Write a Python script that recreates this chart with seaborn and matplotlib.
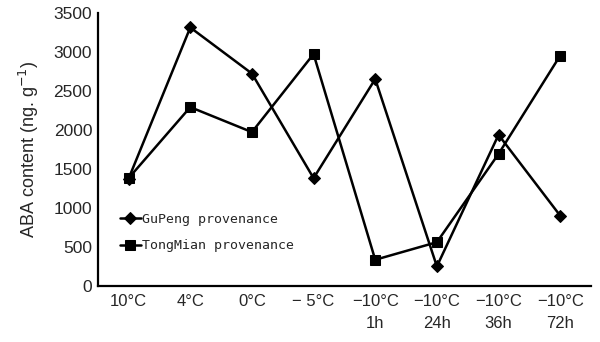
import matplotlib
matplotlib.use("Agg")
import matplotlib.pyplot as plt
import seaborn as sns
import pandas as pd
import numpy as np

categories = ["10°C", "4°C", "0°C", "− 5°C", "−10°C\n1h", "−10°C\n24h", "−10°C\n36h", "−10°C\n72h"]
gupeng = [1375, 3310, 2720, 1380, 2650, 250, 1935, 900]
tongmian = [1380, 2290, 1970, 2970, 335, 560, 1690, 2950]
series_names = ["GuPeng provenance", "TongMian provenance"]
yticks = [0, 500, 1000, 1500, 2000, 2500, 3000, 3500]

sns.set_theme(style="white")
plt.rcParams['font.family'] = ['Liberation Sans', 'DejaVu Sans']

rows = []
for i, c in enumerate(categories):
    rows.append({"pos": i, "value": gupeng[i], "series": series_names[0]})
    rows.append({"pos": i, "value": tongmian[i], "series": series_names[1]})
df = pd.DataFrame(rows)

fig = plt.figure(figsize=(6.0, 3.42), dpi=100)
ax = fig.add_axes([0.163, 0.164, 0.822, 0.799])

sns.lineplot(data=df, x="pos", y="value", style="series", markers={series_names[0]: "D", series_names[1]: "s"},
             dashes=False, color="black", linewidth=1.8, markersize=7, markeredgecolor="black",
             ax=ax, sort=False)
for line in ax.lines:
    if line.get_marker() == "D":
        line.set_markersize(6)
    elif line.get_marker() == "s":
        line.set_markersize(7.5)

ax.set_xlim(-0.5, len(categories) - 0.5)
ax.set_ylim(0, 3500)
ax.set_yticks(yticks)
ax.set_yticklabels([str(v) for v in yticks], fontsize=12.5)

ax.set_xticks(np.arange(0.5, len(categories) - 0.5 + 1e-9, 1.0))
ax.set_xticklabels([])
ax.set_xticks(np.arange(len(categories)), minor=True)
ax.set_xticklabels(categories, minor=True, fontsize=12, linespacing=1.6)
ax.tick_params(axis="x", which="minor", length=0, pad=6)
ax.tick_params(axis="x", which="major", direction="in", length=4, width=1.2, color="black")
ax.tick_params(axis="y", direction="in", length=4, width=1.2, color="black", pad=4)

for s in ["top", "right"]:
    ax.spines[s].set_visible(False)
for s in ["left", "bottom"]:
    ax.spines[s].set_color("black")
    ax.spines[s].set_linewidth(1.6)

ax.set_xlabel("")
ax.set_ylabel("ABA content (ng. g$^{-1}$)", fontsize=13, labelpad=9)

leg = ax.legend(loc="upper left", bbox_to_anchor=(0.02, 0.31), frameon=False,
                prop={"family": "DejaVu Sans Mono", "size": 9.5}, handlelength=1.6,
                handletextpad=0.1, labelspacing=1.0)
for h in leg.legend_handles:
    h.set_color("black")

fig.savefig("out.png", dpi=100)
